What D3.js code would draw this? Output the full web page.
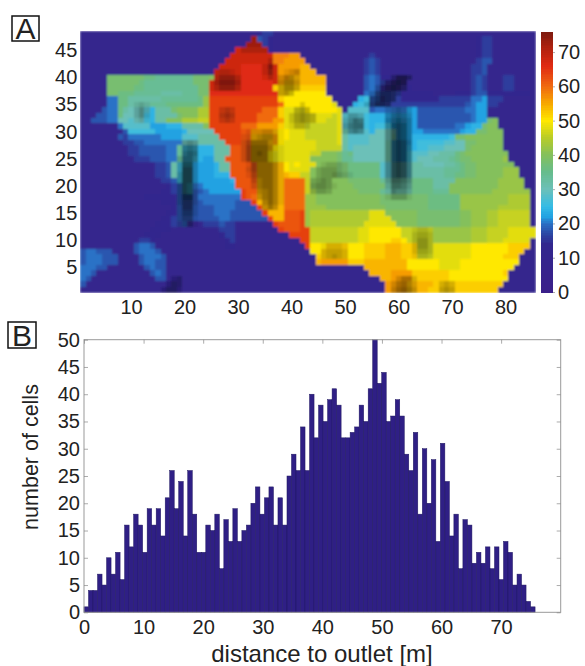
<!DOCTYPE html>
<html>
<head>
<meta charset="utf-8">
<script src="https://cdn.jsdelivr.net/npm/d3@7"></script>
<style>
  html, body { margin: 0; padding: 0; background: #fff; }
  text { font-family: "Liberation Sans", Arial, sans-serif; fill: #222; }
</style>
</head>
<body>
<div id="chart"></div>
<script>
// panel A grid, top row (y=48) first, one char per cell, base 36, value = char * 2
var heatRows = [
"5555555555 5555555555 5555555555 5557885555 5555555555 5555555555 5555555555 5555555555 55555",
"5555555555 5555555555 5555555555 55y9875555 5555555555 5555555555 5555555555 5555788555 55555",
"5555555555 5555555555 5555555555 5yyy875555 5555555555 5555555555 5555555555 5555788555 55555",
"5555555555 5555555555 555555555y yyyyy75555 5555555555 5555555555 5555555555 5555788555 55555",
"5555555555 5555555555 55555555yy yyyyyyttts s555555555 5555855555 5555555555 5555788555 55555",
"5555555555 5555555555 5555555yyy yyyyyyttss ss55555555 5558985555 5555555555 5555899555 55555",
"5555555555 5555555555 555555yyyy xxxxxyysss srr5555555 5558985555 5555555555 5558895555 55555",
"5555555555 5555555555 55555yyyyy xxxxxxysss srrr555555 5558985555 5555555555 5558895555 55555",
"55555jjjjj jjiihhhhhh hjjjkyyyyy xxxxxxyssr rrrrrr5555 5559a97777 7755555555 5558985558 85555",
"55555jjjjj jihhhhhhhh hjjjyyyyyy xxxxxxysrr rrrrrr5555 5559a98777 7555555555 5558985558 85555",
"55555jjjjj iihhhhhhhh hhjjyyyyyy xxxxxxqqqq qqqqqq5555 5559a97777 7755555555 5558985558 85555",
"55555jjiii hhhhhggggh hhjjxxxxxx xxxxxxxqqp pppppp5555 555aa98888 7777775555 7778997777 77775",
"55555aaiig ggggghhhhh hhilwwwwww wwwwwwwqpp ppppppp555 55cd998888 7777777888 888aab8885 55555",
"55555aaiig ggghhhiiii iiilwwwwww wwwwwwwupp pppppppo55 5cdd998888 8888888888 889abb8855 55555",
"55559aaigf ffecgggjkk kkmmwwwwww wwwwuuuqoo ooppppppo5 eeee9aaaaa abb9999999 99aabb5555 55555",
"55599aaiff ffdcggggjk kkmmwwwwww wwwuuuuqoo ooooooonoe eeedcccbbb bbb9999999 999abb5555 55555",
"55999aaffe ffdcggkkkm mmnnwwwwww wwwuuussoo oooooonnoe eeedcccbbb bbb9999999 999abbjk55 55555",
"5555555aee eeebbbcccg gggkwwwwww uuussssqoo oonnnnnnoe eeedcdddbb bbb9999999 aabccjkk55 55555",
"555555559d ddddbbbbbc fffffwwwww vvssssrppo oonnnnnnog eeeecffffb bbbbaaaaaa abccjjkkk5 55555",
"555555598a aaaaabbbbe eeggggwwww vvrrrrsppo oonnnnnnog eeeeffffgb bbcccccccd jjkkkkkkk5 55555",
"5555555588 99aaaaaaaf ffgggggwww vvrrrrspoo oooonnnnog eeeefffgcb bbcdddddee ffjjkkkkk5 55555",
"5555555558 899999aahd ddcccgggvv vvrrrrpooo oooonnnnng effffffgcb bccddeeeff ffjkkkkkk5 55555",
"5555555558 899999aahd ddcccgggvv vvrrrpoooo ooonnkkkjh iffffffgcb bdeeeffggg ijkkkkkkkk 55555",
"5555555555 888999aahd ddcbbggvvv vvrrrpoooo oookkkkkjh hffffffgcb bdefffgggh ijjkkkkkkl 55555",
"5555555555 5555889gdd dbbbbcggvv vvvrrrrrpo poookkkkjj iiiiiieeee eeggffffgg hijjkkkkkk k5555",
"5555555555 5555889gdd dbbbbcggvv vvvrrrrrpo oookkkkkjj iiiiiieeee eegggggghh hijjkkkkkl ll555",
"5555555555 5555889gdd dbbbbcccvv vvvrrrrrrq qnnkkkkkjj iiiiiieeee eegggggghh iijjkkkkkl ll555",
"5555555555 55555889dd dbbbbbbbcv vvvrrrrruu uunkkkkkkk jjjjjjhggg ggiiiigggg kkkkkkkkll lll55",
"5555555555 555555789d daabbbbbbv vvvrrrrruu uunkkkkkkk kjjjjjjggg ggiiiigggk kkkkkkkkll lll55",
"5555555555 555557789d d99abbbbbb wvvrrrrruu uunlkkkkkk kkjjjjhggg ggiiiihhhk kkkkkkklll llll5",
"5555555555 5577777799 99aaaaaaaa wvurrrrruu uullkkkkkk kkkkkkjjjj jjjjjiiiii illlllllll mmmm5",
"5555555555 5555566699 999aaaaaa9 99wrrrrruu uullkkkkkk kkkkkkjjjj jjjjjiiiii illlllllll mmmm5",
"5555555555 5555555699 99999aaaa9 999wrrrruu uullllkkkk kkkkkkkjjj jjjjjiiiii illlllllmm mmmm5",
"5555555555 5555556799 99999aaa99 9999wrrrvv vwlmmmmmmm mmmmoookkk kkkjjjjjjj jkklllmmnn nnnn5",
"5555555555 5555567899 999999aa99 99999wrrvv vwlmmmmmmm mmmmooookk kkkjjjjjjj jkklllmmnn nnnn5",
"5555555555 5555677889 5558889885 555555wvvv vwlmmmmmmm mmmooooook kkkjjjjjjj jkklllmmnn nnnn5",
"5555555555 5556776555 5555558885 5555555wvv vwwnnnnnnn nnoopppppp nnnnnnllll lllmmmnnnn ooooo",
"5555555555 5567655555 5555557885 555555555w wwwnnnnnnn nnoopppppp nnnnnnllll lllmmmnnnn ooooo",
"5555555555 5887555555 5555555785 5555555555 5wwnnnnnnn nnooppppqq pnnnnnllll lllmmmnnno oooo5",
"5555555555 9aa9555555 5555555675 5555555555 55wpppqqqq pppqqqqrrr qqqnnnoooo oooppppppp qqqq5",
"9aa9995555 9aaa955555 5555555555 5555555555 555ppqqqqq pppqqqqrrr qqqnnnoooo oooppppppp qqq55",
"9aaa999555 59aaa95555 5555555555 5555555555 5555qqqqqq pppqqqqrrr qqqnnnoooo oooppppppq qq555",
"9aaa999555 59aa995555 5555555555 5555555555 5555rsssss qqqrrrrrrr rppppppooo oppppppppp pp555",
"aaa9955555 559a995555 5555555555 5555555555 5555555555 555rrrrrrr rppppppooo oppppppppp p5555",
"aa95555555 5559a95555 5555555555 5555555555 5555555555 5555rrrrss ssqqqqqqqp pppppppppq 55555",
"a955555555 5555995555 5555555555 5555555555 5555555555 555555rrss ssqqqqqqqp pppppppppp 55555",
"9555555555 5555555555 5555555555 5555555555 5555555555 5555555sss srrrrrqqqq qqqqqqqqq5 55555",
"5555555555 5555555555 5555555555 5555555555 5555555555 5555555sss srrrrqqqqq qqqqqqqq55 55555"
];

// dark hillshade patches on top of the grid: [row from top, first column, darkness digits]
var shadePatches = [
[1,33,"3"],[2,32,"333"],[3,31,"22222"],[5,36,"2"],[6,35,"25"],[7,35,"25"],[8,35,"13"],
[7,26,"1221"],[8,26,"24442"],[9,26,"35553"],[10,26,"24442"],[14,27,"232"],[15,27,"343"],[16,27,"232"],
[7,39,"123"],[8,38,"2442"],[9,38,"3553"],[10,38,"3553"],[11,38,"343"],[13,42,"2"],[14,41,"343"],
[15,40,"24543"],[16,40,"24543"],[17,40,"1332"],
[18,32,"1223321"],[19,31,"12345531"],[20,31,"24666431"],[21,31,"25777531"],[22,31,"25787531"],
[23,31,"25777531"],[24,32,"1566641"],[25,32,"2566641"],[26,32,"1466641"],[27,33,"356641"],
[28,33,"256641"],[29,34,"45641"],[30,34,"35641"],[31,35,"4641"],[32,35,"353"],
[13,11,"121"],[14,11,"242"],[15,11,"242"],[16,11,"121"],
[20,20,"343"],[21,20,"565"],[22,20,"676"],[23,19,"2775"],[24,19,"3883"],[25,19,"3993"],[26,19,"4993"],
[27,19,"4993"],[28,19,"4983"],[29,19,"4983"],[30,19,"4883"],[31,19,"4773"],[32,19,"3772"],[33,19,"3662"],
[34,19,"3551"],[35,19,"2441"],[45,18,"23"],[46,17,"243"],[47,16,"2442"],
[8,59,"3664"],[9,57,"24676"],[10,56,"246764"],[11,55,"256653"],[12,55,"46765"],[13,54,"25765"],
[14,58,"23432"],[15,58,"35653"],[16,58,"46764"],[17,58,"47874"],[18,58,"47874"],[19,58,"47874"],
[20,58,"48985"],[21,58,"48985"],[22,58,"48985"],[23,58,"48985"],[24,58,"48985"],[25,58,"48985"],
[26,58,"48985"],[27,58,"37764"],[28,58,"26653"],[29,58,"15442"],[30,58,"13331"],
[15,50,"1332"],[16,50,"2465"],[17,50,"3566"],[18,50,"2454"],
[24,46,"12221"],[25,45,"233321"],[26,45,"2334321"],[27,44,"2343"],[28,44,"34431"],[29,44,"2332"],
[39,46,"12221"],[40,46,"23332"],[41,46,"23432"],
[36,63,"1221"],[37,63,"2332"],[38,63,"2442"],[39,63,"2442"],[40,63,"2332"],[41,63,"1221"],
[45,60,"2442"],[46,59,"24542"],[47,59,"35653"],[46,68,"232"],[47,68,"343"]
];

var mapTicksX = [10, 20, 30, 40, 50, 60, 70, 80];
var mapTicksY = [5, 10, 15, 20, 25, 30, 35, 40, 45];
var barTicks = [0, 10, 20, 30, 40, 50, 60, 70];
var colorbarTicks = [0, 10, 20, 30, 40, 50, 60, 70];
var countTicks = [0, 5, 10, 15, 20, 25, 30, 35, 40, 45, 50];

// colour stops
var colorStops = [0, 14, 17, 20, 22, 25, 30, 35, 40, 45, 50, 55, 60, 66, 72, 76];
var colorValues = ["#3a1f8a", "#32278e", "#2c48a4", "#2a72c6", "#22a2e2", "#34bce6", "#6cc0b8", "#66bc8c",
    "#84c05c", "#b8cc28", "#ffe800", "#f7a800", "#f06a10", "#e02a12", "#a8200f", "#7a1a10"];

// panel B histogram, 100 bins
var cellCounts = [1,4,4,7,5,10,7,11,6,16,12,18,16,11,19,16,19,14,21,26,19,24,14,26,18,11,11,16,15,18,8,17,13,19,13,
    15,16,20,23,18,21,23,16,21,16,25,29,26,34,26,40,32,38,35,39,41,38,32,32,33,34,38,35,41,50,42,44,35,36,39,36,29,
    26,33,18,30,20,28,13,31,24,14,18,8,17,16,9,11,9,12,8,12,6,13,11,5,7,5,2,1];
var binWidth = 0.757;

var svg = d3.select("#chart").append("svg")
    .attr("width", 585)
    .attr("height", 666)
    .style("display", "block");

var defs = svg.append("defs");
defs.append("filter").attr("id", "soft")
    .attr("x", "0").attr("y", "0").attr("width", "1").attr("height", "1")
    .append("feGaussianBlur").attr("stdDeviation", 1).attr("edgeMode", "duplicate");

var color = d3.scaleLinear().domain(colorStops).range(colorValues);

// ************** panel A *****************
var mapX = d3.scaleLinear().domain([0.5, 85.5]).range([80.3, 535]);
var mapY = d3.scaleLinear().domain([0.5, 48.5]).range([292, 31]);

var cells = [];
var shadeAt = {};
shadePatches.forEach(function (p) {
    p[2].split("").forEach(function (s, i) {
        shadeAt[p[0] + "_" + (p[1] + i)] = +s / 13;
    });
});
heatRows.forEach(function (row, t) {
    row.replace(/ /g, "").split("").forEach(function (ch, c) {
        cells.push({
            col: c + 1,
            row: 48 - t,
            value: parseInt(ch, 36) * 2,
            shade: shadeAt[t + "_" + (c + 1)] || 0
        });
    });
});

var cellW = mapX(2) - mapX(1), cellH = mapY(1) - mapY(2);
svg.append("g")
    .attr("filter", "url(#soft)")
    .attr("shape-rendering", "crispEdges")
    .selectAll("rect")
    .data(cells)
    .enter().append("rect")
    .attr("x", function (d) { return mapX(d.col - 0.5); })
    .attr("y", function (d) { return mapY(d.row + 0.5); })
    .attr("width", cellW + 0.5)
    .attr("height", cellH + 0.5)
    .attr("fill", function (d) {
        return d3.interpolateRgb(color(d.value), "#000")(d.shade);
    });

function tidy(g) {
    g.select(".domain").remove();
    g.selectAll("line").attr("stroke", "#888").attr("stroke-width", 0.7);
    g.selectAll("text").attr("font-size", 20);
}

svg.append("g")
    .attr("transform", "translate(0,292)")
    .call(d3.axisBottom(mapX).tickValues(mapTicksX).tickSize(0).tickPadding(8))
    .call(tidy);
svg.append("g")
    .attr("transform", "translate(80.3,0)")
    .call(d3.axisLeft(mapY).tickValues(mapTicksY).tickSize(0).tickPadding(3))
    .call(tidy);

// colour bar
var barScale = d3.scaleLinear().domain([0, 76]).range([292, 31.5]);
svg.append("g")
    .attr("shape-rendering", "crispEdges")
    .selectAll("rect")
    .data(d3.range(0, 76, 0.5))
    .enter().append("rect")
    .attr("x", 541)
    .attr("y", function (d) { return barScale(d + 0.5); })
    .attr("width", 12)
    .attr("height", barScale(0) - barScale(0.8))
    .attr("fill", function (d) { return color(d); });
svg.append("g")
    .attr("transform", "translate(553,0)")
    .call(d3.axisRight(barScale).tickValues(colorbarTicks).tickSize(2).tickPadding(3))
    .call(tidy);

// ************** panel B *****************
var histX = d3.scaleLinear().domain([0, 80]).range([84, 560.7]);
var histY = d3.scaleLinear().domain([0, 50]).range([612.3, 339.7]);

svg.append("g")
    .selectAll("rect")
    .data(cellCounts)
    .enter().append("rect")
    .attr("x", function (d, i) { return histX(i * binWidth); })
    .attr("y", function (d) { return histY(d); })
    .attr("width", histX(binWidth) - histX(0))
    .attr("height", function (d) { return histY(0) - histY(d); })
    .attr("fill", "#2f1f85")
    .attr("stroke", "#1f1760")
    .attr("stroke-width", 0.5);

svg.append("rect")
    .attr("x", 84).attr("y", 339.7)
    .attr("width", 476.7).attr("height", 272.6)
    .attr("fill", "none").attr("stroke", "#999").attr("stroke-width", 1);

svg.append("g")
    .attr("transform", "translate(0,612.3)")
    .call(d3.axisBottom(histX).tickValues(barTicks).tickSize(0).tickPadding(8))
    .call(tidy);
svg.append("g")
    .attr("transform", "translate(0,339.7)")
    .call(d3.axisBottom(histX).tickValues(barTicks).tickSize(4).tickFormat(""))
    .call(tidy);
svg.append("g")
    .attr("transform", "translate(84,0)")
    .call(d3.axisRight(histY).tickValues(countTicks).tickSize(4).tickFormat(""))
    .call(tidy);
svg.append("g")
    .attr("transform", "translate(84,0)")
    .call(d3.axisLeft(histY).tickValues(countTicks).tickSize(0).tickPadding(4))
    .call(tidy);
svg.append("g")
    .attr("transform", "translate(560.7,0)")
    .call(d3.axisLeft(histY).tickValues(countTicks).tickSize(4).tickFormat(""))
    .call(tidy);

svg.append("text")
    .attr("x", 322).attr("y", 662)
    .attr("text-anchor", "middle").attr("font-size", 24)
    .text("distance to outlet [m]");
svg.append("text")
    .attr("transform", "translate(38,457) rotate(-90)")
    .attr("text-anchor", "middle").attr("font-size", 21.5)
    .text("number of cells");

// panel letters
[["A", 12, 16, 27, 25], ["B", 8, 322, 28, 26]].forEach(function (p) {
    svg.append("rect")
        .attr("x", p[1]).attr("y", p[2])
        .attr("width", p[3]).attr("height", p[4])
        .attr("fill", "none").attr("stroke", "#111").attr("stroke-width", 1.5);
    svg.append("text")
        .attr("x", p[1] + p[3] / 2).attr("y", p[2] + p[4] - 2)
        .attr("text-anchor", "middle").attr("font-size", 30)
        .text(p[0]);
});
</script>
</body>
</html>
